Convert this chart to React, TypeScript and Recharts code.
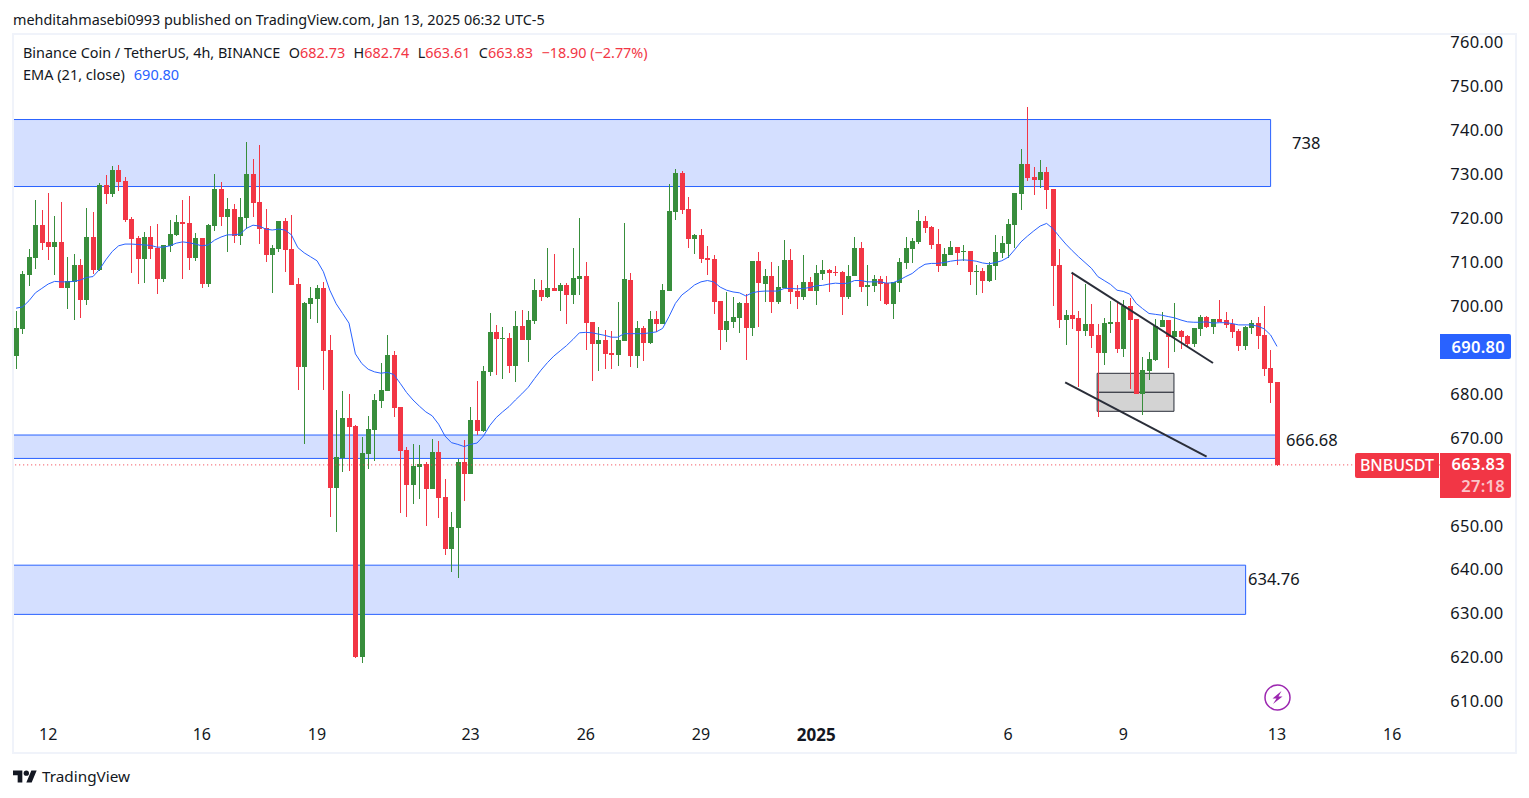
import React from 'react';
import { ComposedChart, Bar, Line, XAxis, YAxis, ReferenceArea, ReferenceLine } from 'recharts';

const opens = [
  688.6, 694.8, 707.1, 710.9, 718.4, 714.6, 713.4, 714.6, 704.1, 705.5, 709.3, 701.4, 715.7, 708.2, 727.6, 725.5, 731.0, 728.5, 719.8, 715.5,
  710.7, 715.7, 713.2, 706.1, 713.7, 716.2, 719.1, 718.9, 710.9, 715.5, 705.0, 718.2, 726.6, 720.3, 722.1, 715.9, 720.0, 730.1, 723.7, 717.8,
  711.6, 713.0, 719.4, 713.0, 705.0, 686.1, 700.5, 701.6, 704.1, 690.0, 658.6, 665.4, 674.5, 672.7, 620.1, 666.3, 671.8, 678.4, 680.6, 688.8,
  677.0, 667.2, 659.2, 663.3, 664.0, 658.3, 666.8, 656.5, 644.7, 649.5, 664.5, 661.8, 674.0, 671.5, 685.0, 694.1, 692.5, 692.7, 686.3, 695.4,
  692.3, 696.6, 703.6, 702.0, 704.1, 703.4, 704.8, 702.5, 706.1, 706.8, 696.4, 691.3, 692.3, 689.3, 688.8, 692.0, 705.9, 688.6, 695.0, 691.6,
  697.0, 695.9, 703.4, 721.4, 730.3, 722.1, 715.3, 716.2, 710.9, 710.7, 701.1, 694.5, 696.4, 697.3, 700.7, 695.0, 710.2, 705.0, 706.8, 700.9,
  704.1, 710.5, 703.4, 702.0, 705.5, 703.4, 707.3, 708.2, 707.7, 707.7, 702.0, 706.8, 713.2, 704.3, 704.6, 706.1, 705.2, 700.5, 705.2, 709.8,
  713.0, 714.6, 719.4, 718.0, 714.1, 709.1, 711.6, 713.4, 712.3, 712.5, 707.7, 708.0, 705.7, 709.1, 712.1, 714.1, 718.4, 725.5, 732.3, 729.4,
  728.7, 730.5, 726.6, 709.3, 696.8, 698.0, 697.3, 694.3, 695.9, 693.4, 689.3, 695.9, 696.4, 690.2, 700.0, 697.0, 680.0, 685.2, 687.7, 695.2,
  696.8, 692.9, 694.3, 693.2, 691.3, 694.8, 697.5, 695.2, 697.0, 696.8, 696.0, 694.3, 690.9, 695.0, 696.1, 693.4, 685.9, 682.73,
];
const highs = [
  698.9, 707.9, 713.0, 724.1, 721.9, 725.7, 720.5, 723.7, 711.2, 711.8, 710.7, 722.3, 721.4, 728.0, 729.8, 731.9, 732.1, 729.4, 720.3, 715.9,
  716.9, 718.2, 718.7, 713.9, 719.6, 720.7, 724.1, 725.0, 716.6, 715.5, 718.7, 730.1, 728.2, 724.6, 723.2, 724.6, 737.3, 733.5, 736.7, 722.1,
  713.9, 719.4, 720.0, 720.7, 706.4, 700.9, 704.3, 704.8, 705.5, 693.4, 676.3, 680.6, 680.0, 672.9, 670.2, 675.0, 680.0, 687.0, 693.4, 689.8,
  677.0, 667.9, 668.6, 668.4, 664.5, 669.7, 669.3, 660.6, 653.1, 665.2, 669.5, 677.0, 682.9, 686.3, 698.4, 695.7, 695.2, 693.9, 698.9, 699.1,
  698.9, 706.1, 705.9, 713.2, 711.8, 705.2, 705.2, 713.2, 720.0, 710.0, 696.4, 695.2, 694.5, 694.3, 700.9, 718.9, 707.5, 696.6, 695.5, 698.9,
  698.9, 705.0, 727.8, 731.2, 730.7, 724.8, 716.4, 717.5, 713.7, 711.6, 701.1, 703.2, 702.0, 700.9, 702.7, 710.2, 712.3, 708.4, 710.0, 709.1,
  715.0, 713.0, 704.8, 711.6, 706.6, 709.3, 710.5, 708.4, 709.1, 708.0, 709.3, 715.7, 714.6, 709.3, 707.1, 706.8, 706.8, 705.5, 710.9, 715.7,
  715.5, 721.9, 720.5, 718.2, 717.5, 713.2, 714.8, 713.4, 713.9, 712.5, 709.3, 708.7, 710.0, 716.2, 715.9, 719.8, 725.7, 735.7, 745.3, 731.7,
  733.2, 731.7, 726.6, 713.0, 699.1, 707.5, 698.9, 705.0, 700.5, 695.9, 697.3, 701.1, 700.7, 701.4, 701.8, 697.0, 688.4, 689.5, 697.0, 698.6,
  696.8, 700.7, 694.5, 693.4, 695.0, 698.0, 697.7, 697.0, 701.4, 698.6, 697.0, 694.8, 695.5, 696.8, 697.5, 700.0, 690.0, 682.74,
];
const lows = [
  685.7, 693.6, 704.6, 708.4, 712.8, 710.5, 707.1, 704.1, 699.3, 696.8, 697.3, 700.2, 707.3, 708.0, 723.2, 724.8, 726.2, 719.1, 707.5, 705.0,
  705.2, 710.7, 702.7, 705.5, 712.3, 715.9, 706.1, 708.2, 710.2, 704.1, 704.3, 717.1, 718.2, 712.3, 714.3, 713.9, 717.5, 720.3, 714.1, 710.0,
  703.0, 712.3, 707.7, 704.8, 680.9, 668.6, 697.0, 696.1, 680.9, 652.0, 648.5, 662.2, 662.4, 619.9, 618.7, 662.9, 664.7, 676.8, 680.6, 674.7,
  652.9, 652.0, 654.9, 656.1, 649.9, 658.3, 651.7, 643.3, 639.4, 638.1, 655.6, 661.8, 670.6, 671.3, 684.1, 684.3, 683.4, 684.7, 682.7, 692.3,
  687.2, 695.9, 701.1, 701.8, 703.4, 698.9, 695.9, 700.5, 702.5, 690.0, 682.9, 685.2, 685.6, 685.6, 686.3, 692.0, 686.1, 685.9, 687.5, 691.3,
  694.1, 695.9, 703.4, 719.6, 721.0, 713.2, 711.8, 709.8, 707.1, 698.2, 690.0, 691.8, 695.0, 693.9, 687.7, 693.2, 695.2, 700.9, 698.4, 700.5,
  704.1, 700.5, 699.3, 701.4, 703.4, 700.2, 705.9, 703.2, 706.8, 697.9, 701.6, 706.8, 703.2, 700.0, 703.2, 701.1, 700.2, 697.0, 703.2, 708.4,
  709.8, 714.1, 716.6, 713.0, 707.7, 709.1, 711.6, 709.3, 710.2, 704.8, 702.5, 703.0, 705.5, 705.9, 710.9, 710.9, 713.2, 721.9, 728.5, 725.3,
  726.9, 722.1, 700.0, 695.0, 691.1, 694.8, 681.6, 693.2, 690.4, 674.8, 686.6, 693.9, 689.3, 688.4, 681.1, 680.0, 675.2, 683.2, 687.5, 695.2,
  685.9, 689.5, 690.2, 690.7, 690.7, 693.2, 695.0, 693.6, 696.4, 695.0, 692.7, 689.8, 690.0, 693.6, 690.2, 684.1, 677.9, 663.61,
];
const closes = [
  695.0, 707.3, 711.2, 718.4, 714.4, 713.4, 714.6, 704.1, 705.7, 709.3, 701.4, 715.7, 708.2, 727.6, 725.5, 731.0, 728.2, 719.6, 715.3, 710.7,
  715.7, 713.0, 706.1, 713.9, 716.4, 719.1, 718.7, 710.9, 715.5, 705.0, 718.4, 726.6, 720.3, 722.1, 715.9, 720.3, 730.1, 723.5, 717.5, 711.6,
  713.2, 719.4, 712.8, 704.8, 686.1, 700.7, 701.8, 704.1, 689.8, 658.6, 665.6, 674.5, 672.5, 620.1, 666.5, 672.0, 678.6, 680.9, 688.8, 676.8,
  667.0, 659.2, 663.6, 664.0, 658.3, 666.8, 656.3, 644.7, 649.7, 664.5, 661.8, 674.0, 671.5, 685.2, 694.1, 692.5, 692.7, 686.3, 695.4, 692.3,
  696.8, 703.6, 702.0, 704.1, 703.4, 704.8, 702.5, 706.4, 706.8, 696.1, 691.3, 692.3, 689.1, 688.8, 692.3, 706.1, 688.6, 695.0, 691.6, 697.0,
  695.9, 703.6, 721.6, 730.3, 721.9, 715.3, 716.2, 710.7, 710.5, 700.9, 694.5, 696.6, 697.5, 700.7, 695.0, 710.2, 705.2, 706.8, 700.9, 704.3,
  710.5, 703.2, 702.0, 705.5, 703.4, 707.5, 708.2, 707.5, 707.5, 702.0, 706.8, 713.2, 704.3, 704.8, 706.1, 705.0, 700.5, 705.5, 710.0, 713.2,
  714.8, 719.4, 717.8, 713.9, 709.1, 711.8, 713.4, 712.1, 712.5, 707.7, 708.0, 705.7, 709.3, 712.3, 714.4, 718.7, 725.7, 732.3, 729.1, 728.7,
  730.5, 726.4, 709.1, 696.8, 698.0, 697.0, 694.3, 695.9, 693.2, 689.3, 696.1, 696.4, 690.2, 700.0, 696.8, 680.0, 685.4, 687.9, 695.4, 696.8,
  692.9, 694.3, 692.9, 691.3, 695.0, 697.5, 695.2, 697.0, 696.4, 695.7, 694.1, 690.9, 695.2, 696.1, 693.2, 685.6, 682.5, 663.83,
];
const emaValues = [
  699.5, 699.8, 701.2, 703.0, 704.0, 705.0, 705.6, 705.5, 705.5, 705.6, 705.9, 706.5, 706.7, 708.3, 710.5, 712.4, 713.7, 714.1, 714.1, 714.0,
  713.9, 713.8, 713.4, 713.4, 713.7, 714.3, 714.6, 714.4, 714.1, 713.7, 713.9, 715.0, 715.7, 716.2, 716.2, 716.4, 717.7, 718.4, 718.2, 717.5,
  717.3, 717.5, 717.3, 716.2, 713.3, 712.1, 711.2, 710.3, 707.8, 703.6, 700.5, 698.3, 696.1, 689.1, 686.9, 685.6, 685.0, 684.7, 684.9, 684.4,
  682.4, 680.3, 678.6, 677.2, 675.9, 675.0, 673.1, 670.4, 668.9, 668.5, 668.0, 668.5, 668.8, 670.4, 672.8, 674.6, 675.9, 677.1, 678.6, 680.0,
  681.5, 683.5, 685.4, 687.1, 688.6, 689.8, 691.0, 692.4, 693.9, 694.0, 693.9, 693.6, 693.3, 692.9, 692.9, 693.7, 693.7, 693.7, 693.7, 693.9,
  694.1, 694.9, 697.6, 700.6, 702.5, 703.6, 704.8, 705.5, 705.8, 705.5, 704.3, 703.6, 703.2, 703.0, 702.3, 703.0, 703.3, 703.4, 703.4, 703.4,
  704.0, 704.0, 703.9, 704.0, 704.2, 704.6, 704.7, 705.0, 705.2, 705.1, 705.2, 705.8, 705.8, 705.5, 705.5, 705.5, 705.2, 705.3, 705.9, 706.7,
  707.4, 708.6, 709.5, 709.7, 709.7, 709.9, 710.2, 710.4, 710.5, 710.4, 710.2, 709.8, 709.6, 709.9, 710.3, 711.1, 712.8, 714.6, 715.9, 717.1,
  718.2, 718.8, 717.6, 715.8, 714.1, 712.6, 711.2, 709.9, 708.6, 706.7, 705.8, 704.9, 703.6, 703.3, 702.7, 700.6, 699.4, 698.3, 698.1, 697.9,
  697.6, 697.3, 696.8, 696.4, 696.3, 696.3, 696.4, 696.1, 696.2, 696.2, 696.0, 695.7, 695.7, 695.7, 695.4, 694.8, 693.4, 690.8,
];

// candle slots on the time scale, the empty ones are the future space on the right
const slotCount = 223;
const dateTicks = [6, 30, 48, 72, 90, 108, 126, 156, 174, 198, 216];
const dateLabels = ['12', '16', '19', '23', '26', '29', '2025', '6', '9', '13', '16'];
const priceTicks = [610, 620, 630, 640, 650, 670, 680, 700, 710, 720, 730, 740, 750, 760];

const rows = Array.from({ length: slotCount }, (_, i) => {
  const has = i < opens.length;
  return {
    slot: i + 1,
    open: has ? opens[i] : null,
    high: has ? highs[i] : null,
    low: has ? lows[i] : null,
    close: has ? closes[i] : null,
    range: has ? [lows[i], highs[i]] : null,
    ema: has ? emaValues[i] : null,
  };
});

const UP = '#388e3c';
const DOWN = '#f23645';
const ZONE_FILL = '#d4dfff';
const ZONE_LINE = '#2962ff';
const INK = '#131722';
const FONT = '"Noto Sans", sans-serif';

const Candle = (props: any) => {
  const { x, y, width, height, payload } = props;
  if (!payload || payload.open == null) return null;
  const { open, close, high, low } = payload;
  const perUnit = height / (high - low);
  const top = y + (high - Math.max(open, close)) * perUnit;
  const bot = y + (high - Math.min(open, close)) * perUnit;
  const color = close >= open ? UP : DOWN;
  const left = Math.round(x);
  return (
    <g shapeRendering="crispEdges">
      <rect x={left + 2} y={y} width={1} height={Math.max(height, 1)} fill={color} />
      <rect x={left} y={Math.round(top)} width={5} height={Math.max(Math.round(bot - top), 1)} fill={color} />
    </g>
  );
};

const DateTick = (props: any) => {
  const { x, y, payload } = props;
  const label = dateLabels[dateTicks.indexOf(payload.value)];
  const isYear = label === '2025';
  return (
    <text x={x} y={y} textAnchor="middle" dominantBaseline="central" fontFamily={FONT} fontSize={isYear ? 17 : 16}
      fontWeight={isYear ? 700 : 400} fill={INK}>
      {label}
    </text>
  );
};

const abs = (left: number, top: number, extra: React.CSSProperties = {}): React.CSSProperties => ({
  position: 'absolute', left, top, whiteSpace: 'nowrap', fontFamily: FONT, color: INK, ...extra,
});

const App = () => {
  return (
    <div style={{ position: 'absolute', left: 0, top: 0, width: 1529, height: 798, background: '#fff', overflow: 'hidden' }}>
      <div style={abs(13, 10, { fontSize: 14.4, lineHeight: '20px' })}>
        mehditahmasebi0993 published on TradingView.com, Jan 13, 2025 06:32 UTC-5
      </div>

      <div style={{ position: 'absolute', left: 0, top: 0 }}>
        <ComposedChart width={1529} height={798} data={rows} margin={{ top: 34, right: 13, bottom: 45, left: 13 }}>
          <XAxis dataKey="slot" ticks={dateTicks} interval={0} height={36} axisLine={false} tickLine={false} tick={<DateTick />} tickMargin={11} />
          <XAxis xAxisId="n" type="number" dataKey="slot" domain={[0, slotCount]} hide allowDataOverflow />
          <YAxis orientation="right" width={75.8} domain={[606.44, 761.92]} ticks={priceTicks} axisLine={false} tickLine={false}
            tickFormatter={(v: number) => v.toFixed(2)} tickMargin={4}
            tick={{ fontFamily: FONT, fontSize: 16.5, letterSpacing: 0.3, fill: INK, textAnchor: 'start' }} allowDataOverflow />

          <ReferenceArea xAxisId="n" x2={196.5} y1={727.2} y2={742.45} fill={ZONE_FILL} fillOpacity={1} stroke={ZONE_LINE} strokeWidth={1} />
          <ReferenceArea xAxisId="n" x2={197.5} y1={665.3} y2={670.63} fill={ZONE_FILL} fillOpacity={1} stroke={ZONE_LINE} strokeWidth={1} />
          <ReferenceArea xAxisId="n" x2={192.6} y1={629.8} y2={641.0} fill={ZONE_FILL} fillOpacity={1} stroke={ZONE_LINE} strokeWidth={1} />
          <ReferenceArea xAxisId="n" x1={169.4} x2={181.4} y1={680.35} y2={684.68} fill="#d3d3d3" fillOpacity={1} stroke="#2a2e39" strokeWidth={1} />
          <ReferenceArea xAxisId="n" x1={169.4} x2={181.4} y1={676.03} y2={680.35} fill="#d3d3d3" fillOpacity={1} stroke="#2a2e39" strokeWidth={1} />
          <ReferenceLine xAxisId="n" segment={[{ x: 165.4, y: 707.58 }, { x: 187.5, y: 687.02 }]} stroke="#2a2e39" strokeWidth={2} />
          <ReferenceLine xAxisId="n" segment={[{ x: 164.4, y: 682.63 }, { x: 186.5, y: 665.69 }]} stroke="#2a2e39" strokeWidth={2} />
          <ReferenceLine y={663.83} stroke={DOWN} strokeDasharray="1 3" strokeWidth={1} />

          <Line dataKey="ema" stroke={ZONE_LINE} strokeWidth={1} dot={false} activeDot={false} isAnimationActive={false} connectNulls={false} />
          <Bar dataKey="range" barSize={5} shape={<Candle />} isAnimationActive={false} />
        </ComposedChart>
      </div>

      {/* pane frame goes over the chart so the zones run under its left edge */}
      <div style={{ position: 'absolute', left: 12, top: 33, width: 1505, height: 721, boxSizing: 'border-box', border: '2px solid #f0f3fa' }} />

      <div style={abs(23, 43, { fontSize: 14.4, lineHeight: '20px' })}>
        Binance Coin / TetherUS, 4h, BINANCE
        <span style={{ marginLeft: 8.5 }}>O</span><span style={{ color: DOWN }}>682.73</span>
        <span style={{ marginLeft: 8.5 }}>H</span><span style={{ color: DOWN }}>682.74</span>
        <span style={{ marginLeft: 8.5 }}>L</span><span style={{ color: DOWN }}>663.61</span>
        <span style={{ marginLeft: 8.5 }}>C</span><span style={{ color: DOWN }}>663.83</span>
        <span style={{ marginLeft: 8.5, color: DOWN }}>−18.90 (−2.77%)</span>
      </div>
      <div style={abs(23, 64, { fontSize: 14.5, lineHeight: '20px' })}>
        EMA (21, close)<span style={{ marginLeft: 9, color: ZONE_LINE }}>690.80</span>
      </div>

      <div style={abs(1292, 132, { fontSize: 16.5, lineHeight: '22px' })}>738</div>
      <div style={abs(1286, 429, { fontSize: 16.5, lineHeight: '22px' })}>666.68</div>
      <div style={abs(1248, 568, { fontSize: 16.5, lineHeight: '22px' })}>634.76</div>

      <div style={abs(1440, 334, { width: 71, height: 25, background: ZONE_LINE, color: '#fff', fontSize: 16.5, letterSpacing: 0.3, fontWeight: 600, lineHeight: '25px', textAlign: 'right', paddingRight: 6, boxSizing: 'border-box', borderRadius: '0 2px 2px 0' })}>690.80</div>
      <div style={abs(1355, 453, { width: 84, height: 25, background: DOWN, color: '#fff', fontSize: 16, fontWeight: 500, lineHeight: '25px', textAlign: 'center', borderRadius: '2px 0 0 2px' })}>BNBUSDT</div>
      <div style={abs(1440, 453, { width: 71, height: 45, background: DOWN, color: '#fff', fontSize: 16.5, letterSpacing: 0.3, fontWeight: 600, lineHeight: '22px', textAlign: 'right', paddingRight: 6, boxSizing: 'border-box', borderRadius: '0 2px 2px 0' })}>
        663.83<br /><span style={{ color: '#fbc4c9' }}>27:18</span>
      </div>

      <svg style={{ position: 'absolute', left: 1263, top: 683 }} width={29} height={29} viewBox="0 0 29 29">
        <circle cx={14.5} cy={14.5} r={12.5} fill="none" stroke="#9c27b0" strokeWidth={1.5} />
        <path d="M18.5 8 L9.5 15.5 L13.5 15.5 L10 21 L19.5 13.5 L15.5 13.5 Z" fill="#9c27b0" />
      </svg>

      <svg style={{ position: 'absolute', left: 13, top: 770 }} width={24} height={13} viewBox="0 4 36 18">
        <path d="M14 22H7V11H0V4h14v18zM28 22h-8l7.5-18h8L28 22z" fill={INK} />
        <circle cx={20} cy={8} r={4} fill={INK} />
      </svg>
      <div style={abs(42, 766, { fontSize: 15.3, lineHeight: '21px' })}>TradingView</div>
    </div>
  );
};

export default App;
